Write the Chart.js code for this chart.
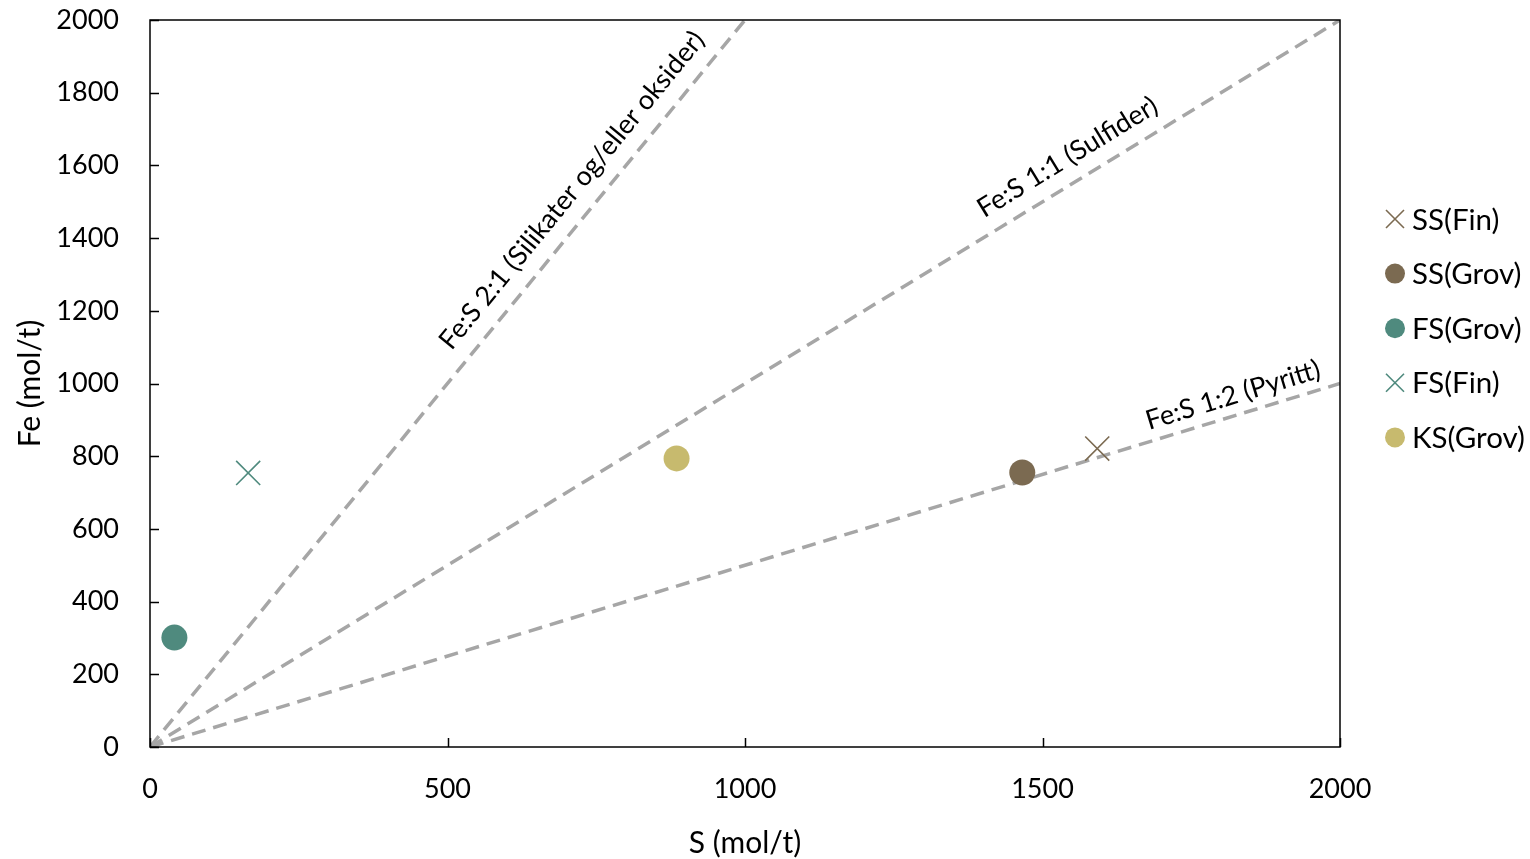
<!DOCTYPE html>
<html>
<head>
<meta charset="utf-8">
<script src="https://cdn.jsdelivr.net/npm/chart.js@4/dist/chart.umd.min.js"></script>
<style>
  html, body { margin: 0; padding: 0; background: #ffffff; }
  #wrap { width: 1530px; height: 859px; }
</style>
</head>
<body>
<div id="wrap"><canvas id="c" width="1530" height="859"></canvas></div>
<script>
// Sample series: S and Fe content in mol/t
const seriesNames = ['SS(Fin)', 'SS(Grov)', 'FS(Grov)', 'FS(Fin)', 'KS(Grov)'];
const sValues  = [1592, 1466, 41, 165, 885];
const feValues = [821, 755, 301, 754, 794];
const seriesColors = ['#7B6A51', '#7B6A51', '#4F8A7E', '#4F8A7E', '#C7BA6E'];
const seriesMarkers = ['crossRot', 'circle', 'circle', 'crossRot', 'circle'];

// Fe:S ratio reference lines (start and end in S, Fe)
const ratioLabels = ['Fe:S 2:1 (Silikater og/eller oksider)', 'Fe:S 1:1 (Sulfider)', 'Fe:S 1:2 (Pyritt)'];
const ratioEndS  = [1000, 2000, 2000];
const ratioEndFe = [2000, 2000, 1000];

// Axis ticks
const xTicks = [0, 500, 1000, 1500, 2000];
const yTicks = [0, 200, 400, 600, 800, 1000, 1200, 1400, 1600, 1800, 2000];

const FONT = 'Lato';
Chart.defaults.font.family = FONT;
Chart.defaults.color = '#000000';

const datasets = [];
ratioLabels.forEach((lbl, i) => {
  datasets.push({
    label: lbl,
    data: [{ x: 0, y: 0 }, { x: ratioEndS[i], y: ratioEndFe[i] }],
    showLine: true,
    borderColor: '#A6A6A6',
    borderWidth: 3.5,
    borderDash: [14, 8],
    pointRadius: 0,
    pointHoverRadius: 0,
    order: 10
  });
});
seriesNames.forEach((name, i) => {
  const cross = seriesMarkers[i] === 'crossRot';
  datasets.push({
    label: name,
    data: [{ x: sValues[i], y: feValues[i] }],
    pointStyle: seriesMarkers[i],
    pointRadius: cross ? 17 : 13,
    pointHoverRadius: cross ? 17 : 13,
    backgroundColor: seriesColors[i],
    borderColor: seriesColors[i],
    borderWidth: cross ? 1.6 : 0,
    showLine: false,
    order: 1
  });
});

// Label placement along each ratio line: fraction of its length, and offset above it
const ratioLabelPlacement = [
  { t: 0.743, off: 26 },
  { t: 0.782, off: 25 },
  { t: 0.915, off: 20 }
];

const framePlugin = {
  id: 'frame',
  afterDatasetsDraw(chart) {
    const ctx = chart.ctx;
    const { left, right, top, bottom } = chart.chartArea;
    const xs = chart.scales.x, ys = chart.scales.y;

    // ratio line labels
    ctx.save();
    ctx.font = '27px ' + FONT;
    ctx.fillStyle = '#000000';
    ctx.textAlign = 'center';
    ctx.textBaseline = 'middle';
    ratioLabels.forEach((lbl, i) => {
      const x0 = xs.getPixelForValue(0), y0 = ys.getPixelForValue(0);
      const x1 = xs.getPixelForValue(ratioEndS[i]), y1 = ys.getPixelForValue(ratioEndFe[i]);
      const ang = Math.atan2(y1 - y0, x1 - x0);
      const p = ratioLabelPlacement[i];
      ctx.save();
      ctx.translate(x0 + (x1 - x0) * p.t, y0 + (y1 - y0) * p.t);
      ctx.rotate(ang);
      ctx.fillText(lbl, 0, -p.off);
      ctx.restore();
    });
    ctx.restore();

    // plot frame and inward ticks
    ctx.save();
    ctx.strokeStyle = '#000000';
    ctx.lineWidth = 1.5;
    ctx.strokeRect(left, top, right - left, bottom - top);
    ctx.beginPath();
    xTicks.forEach(v => {
      const px = Math.round(xs.getPixelForValue(v)) + 0.5;
      ctx.moveTo(px, bottom);
      ctx.lineTo(px, bottom - 9);
    });
    yTicks.forEach(v => {
      const py = Math.round(ys.getPixelForValue(v)) + 0.5;
      ctx.moveTo(left, py);
      ctx.lineTo(left + 9, py);
    });
    ctx.stroke();
    ctx.restore();
  },
  afterDraw(chart) {
    // legend at the right of the plot
    const ctx = chart.ctx;
    const lx = 1395, tx = 1412, y0 = 219, dy = 54.6;
    ctx.save();
    ctx.font = '29.5px ' + FONT;
    ctx.textAlign = 'left';
    ctx.textBaseline = 'middle';
    seriesNames.forEach((name, i) => {
      const y = y0 + i * dy;
      ctx.fillStyle = seriesColors[i];
      ctx.strokeStyle = seriesColors[i];
      if (seriesMarkers[i] === 'circle') {
        ctx.beginPath();
        ctx.arc(lx, y, 10, 0, Math.PI * 2);
        ctx.fill();
      } else {
        ctx.lineWidth = 1.6;
        ctx.beginPath();
        ctx.moveTo(lx - 9, y - 9); ctx.lineTo(lx + 9, y + 9);
        ctx.moveTo(lx + 9, y - 9); ctx.lineTo(lx - 9, y + 9);
        ctx.stroke();
      }
      ctx.fillStyle = '#000000';
      ctx.fillText(name, tx, y + 1);
    });
    ctx.restore();
  }
};

const plainTick = v => String(v);

new Chart(document.getElementById('c'), {
  type: 'scatter',
  data: { datasets },
  options: {
    responsive: false,
    animation: false,
    layout: { padding: { top: 20, right: 190, left: 0, bottom: 0 } },
    plugins: {
      legend: { display: false },
      tooltip: { enabled: false }
    },
    scales: {
      x: {
        type: 'linear',
        min: 0, max: 2000,
        afterBuildTicks: s => { s.ticks = xTicks.map(v => ({ value: v })); },
        afterFit: s => { s.height = 112; s.paddingLeft = 0; s.paddingRight = 0; },
        grid: { display: false, drawTicks: false },
        border: { display: false },
        ticks: { font: { size: 27 }, color: '#000', padding: 26, maxRotation: 0, callback: plainTick },
        title: { display: true, text: 'S (mol/t)', font: { size: 30 }, color: '#000', padding: { top: 0, bottom: -2 } }
      },
      y: {
        type: 'linear',
        min: 0, max: 2000,
        afterBuildTicks: s => { s.ticks = yTicks.map(v => ({ value: v })); },
        afterFit: s => { s.width = 150; s.paddingTop = 0; s.paddingBottom = 0; },
        grid: { display: false, drawTicks: false },
        border: { display: false },
        ticks: { font: { size: 27 }, color: '#000', padding: 31, callback: plainTick },
        title: { display: true, text: 'Fe (mol/t)', font: { size: 30 }, color: '#000', padding: { top: 12, bottom: 0 } }
      }
    }
  },
  plugins: [framePlugin]
});
</script>
</body>
</html>
